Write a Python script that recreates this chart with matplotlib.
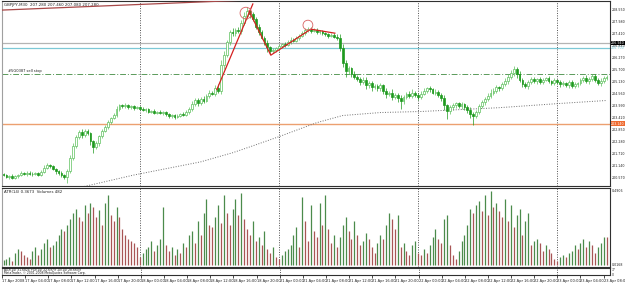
import numpy as np
import matplotlib
matplotlib.use("Agg")
import matplotlib.pyplot as plt
from matplotlib import font_manager as fm

# GBPJPY M30, 17-23 Apr 2008
closes = [
    200.70, 200.62, 200.66, 200.58, 200.64, 200.72, 200.80, 200.76, 200.82, 200.78, 200.74, 200.80, 200.72,
    200.86, 201.05, 201.20, 201.12, 201.00, 200.88,
    200.80, 200.70, 200.62, 200.90,
    201.50, 202.10, 202.50,
    202.75, 202.60, 202.80, 202.70,
    202.30, 202.05, 202.20,
    202.55, 202.80, 203.00, 203.20, 203.40, 203.55,
    203.85, 204.00, 203.95, 204.02, 203.90, 203.96, 203.88, 203.92,
    203.85, 203.78, 203.82, 203.70, 203.74, 203.66, 203.70, 203.62, 203.68, 203.58, 203.50,
    203.55, 203.46, 203.52, 203.60, 203.55, 203.68, 203.85,
    204.05, 204.25, 204.10, 204.30, 204.20, 204.45,
    204.60, 204.55, 204.80, 204.70,
    205.90, 206.40, 207.00,
    207.45, 207.40, 207.55, 207.50,
    207.90, 208.20, 208.45, 208.30, 208.10,
    207.70, 207.45, 207.20, 206.95, 206.75, 206.55,
    206.62, 206.70, 206.80,
    206.90, 206.85, 207.00, 207.10, 207.05, 207.20, 207.30, 207.40,
    207.55, 207.60, 207.52, 207.58,
    207.45, 207.50, 207.40, 207.38, 207.30, 207.34, 207.25, 207.20,
    206.70, 206.00, 205.60,
    205.75, 205.50, 205.35, 205.25,
    205.10, 205.20, 204.95, 205.05, 204.85, 204.90, 204.80, 204.95,
    204.70, 204.55, 204.60, 204.40, 204.50, 204.35, 204.20,
    204.40, 204.55, 204.45, 204.60, 204.50, 204.40,
    204.55, 204.70, 204.80, 204.75, 204.60, 204.65, 204.50, 204.35,
    204.00, 203.75, 203.90,
    204.00, 204.10, 203.95, 204.05, 203.90, 203.80,
    203.60, 203.50, 203.70,
    203.95, 204.15, 204.30, 204.45, 204.60, 204.70, 204.85,
    204.80, 205.00, 205.15, 205.35, 205.55, 205.70,
    205.50, 205.20, 205.00, 204.90, 205.10, 205.25,
    205.15, 205.25, 205.10, 205.20, 205.30, 205.15, 205.05, 205.20, 205.10, 205.00,
    205.05, 204.95, 205.10, 204.90, 205.00, 205.05,
    205.20, 205.30, 205.15, 205.25, 205.40, 205.20,
    205.05, 205.15, 205.30, 205.35,
]
first_open = 200.74

wick_up = [
    0.05, 0.08, 0.04, 0.10, 0.06, 0.05, 0.12, 0.04, 0.06, 0.08,
    0.05, 0.07, 0.04, 0.10, 0.12, 0.08, 0.05, 0.06, 0.04, 0.05,
    0.08, 0.06, 0.10, 0.15, 0.12, 0.10, 0.08, 0.14, 0.06, 0.10,
    0.05, 0.08, 0.12, 0.06, 0.10, 0.08, 0.12, 0.06, 0.10, 0.12,
    0.08, 0.05, 0.10, 0.06, 0.08, 0.05, 0.06, 0.04, 0.08, 0.05,
    0.06, 0.04, 0.07, 0.05, 0.06, 0.04, 0.05, 0.06, 0.04, 0.05,
    0.08, 0.06, 0.10, 0.12, 0.08, 0.15, 0.10, 0.12, 0.08, 0.15,
    0.10, 0.12, 0.08, 0.15, 0.20, 0.25, 0.15, 0.10, 0.12, 0.20,
    0.10, 0.15, 0.12, 0.20, 0.18, 0.12, 0.10, 0.08, 0.12, 0.10,
    0.08, 0.12, 0.06, 0.10, 0.08, 0.12, 0.06, 0.10, 0.08, 0.12,
    0.06, 0.10, 0.08, 0.12, 0.10, 0.08, 0.10, 0.06, 0.08, 0.05,
    0.06, 0.08, 0.05, 0.06, 0.08, 0.10, 0.15, 0.20, 0.12, 0.10,
    0.08, 0.12, 0.10, 0.08, 0.12, 0.15, 0.10, 0.08, 0.10, 0.12,
    0.10, 0.08, 0.12, 0.10, 0.15, 0.08, 0.10, 0.12, 0.08, 0.10,
    0.12, 0.15, 0.10, 0.08, 0.12, 0.10, 0.08, 0.12, 0.06, 0.10,
    0.08, 0.10, 0.12, 0.08, 0.10, 0.12, 0.08, 0.06, 0.10, 0.08,
    0.10, 0.12, 0.08, 0.10, 0.12, 0.10, 0.08, 0.12, 0.15, 0.10,
    0.12, 0.08, 0.10, 0.12, 0.15, 0.10, 0.18, 0.12, 0.10, 0.08,
    0.10, 0.12, 0.08, 0.10, 0.06, 0.08, 0.10, 0.06, 0.08, 0.05,
    0.08, 0.06, 0.10, 0.08, 0.06, 0.10, 0.08, 0.12, 0.06, 0.10,
    0.08, 0.12, 0.10, 0.06, 0.08, 0.10, 0.12, 0.08, 0.10,
]
wick_dn = [
    0.06, 0.05, 0.08, 0.06, 0.04, 0.07, 0.05, 0.06, 0.08, 0.05,
    0.06, 0.05, 0.08, 0.06, 0.05, 0.08, 0.10, 0.06, 0.12, 0.08,
    0.10, 0.08, 0.30, 0.10, 0.08, 0.12, 0.10, 0.15, 0.08, 0.12,
    0.15, 0.30, 0.12, 0.10, 0.08, 0.06, 0.10, 0.08, 0.06, 0.08,
    0.10, 0.06, 0.08, 0.05, 0.06, 0.08, 0.05, 0.06, 0.05, 0.08,
    0.06, 0.05, 0.08, 0.06, 0.05, 0.08, 0.06, 0.12, 0.08, 0.10,
    0.06, 0.08, 0.05, 0.06, 0.08, 0.10, 0.06, 0.15, 0.08, 0.10,
    0.06, 0.10, 0.08, 0.12, 0.10, 0.15, 0.20, 0.12, 0.15, 0.10,
    0.12, 0.10, 0.15, 0.12, 0.10, 0.15, 0.12, 0.10, 0.12, 0.08,
    0.10, 0.25, 0.12, 0.10, 0.08, 0.12, 0.10, 0.08, 0.06, 0.10,
    0.08, 0.06, 0.10, 0.08, 0.06, 0.08, 0.10, 0.06, 0.08, 0.10,
    0.06, 0.08, 0.10, 0.06, 0.08, 0.10, 0.12, 0.20, 0.25, 0.12,
    0.15, 0.10, 0.12, 0.15, 0.10, 0.18, 0.12, 0.15, 0.10, 0.12,
    0.10, 0.15, 0.20, 0.12, 0.15, 0.10, 0.18, 0.35, 0.12, 0.10,
    0.08, 0.12, 0.10, 0.15, 0.10, 0.08, 0.12, 0.10, 0.08, 0.12,
    0.10, 0.15, 0.20, 0.40, 0.15, 0.10, 0.12, 0.08, 0.10, 0.12,
    0.15, 0.20, 0.45, 0.12, 0.10, 0.08, 0.12, 0.10, 0.08, 0.10,
    0.12, 0.10, 0.08, 0.10, 0.12, 0.10, 0.15, 0.20, 0.12, 0.15,
    0.10, 0.12, 0.08, 0.10, 0.12, 0.08, 0.10, 0.06, 0.08, 0.10,
    0.08, 0.10, 0.12, 0.08, 0.10, 0.15, 0.08, 0.10, 0.12, 0.08,
    0.10, 0.08, 0.12, 0.10, 0.08, 0.10, 0.12, 0.08, 0.10,
]

volumes = [
    5, 6, 8, 4, 12, 16, 14,
    10, 8, 6, 14, 18, 10,
    16, 22, 26, 18, 20, 24,
    30, 36, 34, 40, 46, 52,
    56, 48, 44, 60, 52, 62, 58, 48,
    55, 40, 62, 70, 50, 44, 58, 48,
    36, 30, 26, 24, 22, 18,
    8, 12, 16, 18, 24, 14, 20, 26, 58,
    20, 14, 18, 10, 16, 12, 22, 18, 30,
    34, 22, 44, 30, 52, 66, 40, 38,
    48, 60, 42, 70, 52, 40, 56, 66,
    50, 72, 46, 36, 30, 44, 24, 28,
    20, 34, 16, 12, 18, 8, 6,
    10, 14, 16, 20, 30, 38, 18, 68,
    44, 24, 60, 34, 28, 62, 40,
    70, 36, 22, 30, 18, 28, 40, 48,
    34, 26, 44, 30, 20, 24, 32, 26,
    18, 12, 22, 30, 26, 40, 52, 46,
    36, 50, 18, 22, 14, 10, 20, 24, 12,
    10, 16, 12, 20, 28, 36, 26, 22,
    46, 50, 20, 10, 6, 14, 24, 30,
    40, 56, 52, 60, 64, 54, 70, 50, 74,
    58, 62, 54, 48, 66, 44, 60, 38,
    50, 56, 30, 44, 52, 20, 24, 26,
    22, 14, 20, 16, 12, 6, 4, 8,
    10, 8, 12, 14, 20, 16, 22, 26,
    18, 24, 20, 12, 18, 22, 28, 28,
]

# slow moving average, read at a few bars
ma_bars = [27, 45, 68, 79, 85, 95, 108, 117, 130, 144, 171, 192, 208]
ma_vals = [200.14, 200.71, 201.33, 201.76, 202.04, 202.52, 203.18, 203.52,
           203.66, 203.71, 203.89, 204.09, 204.23]

# drawn objects
trend_bars = [-0.7, 85.0]
trend_vals = [208.50, 208.98]
zig_a_bars = [73.6, 86.0]
zig_a_vals = [204.75, 208.79]
zig_b_bars = [84.7, 92.2, 106.0, 114.3]
zig_b_vals = [208.46, 206.37, 207.60, 207.41]
circle_bars = [83.6, 105.0]
circle_vals = [208.36, 207.79]
circle_sizes = [70, 50]

level_gray = 206.94
level_cyan = 206.70
level_stop = 205.46
level_orange = 203.14

price_ticks = [208.55, 207.98, 207.41, 206.84, 206.27, 205.70, 205.13, 204.56,
               203.99, 203.42, 202.85, 202.28, 201.71, 201.14, 200.57]

day_starts = [47, 95, 143, 191]
time_labels = [
    "17 Apr 2008", "17 Apr 04:00", "17 Apr 08:00", "17 Apr 12:00", "17 Apr 16:00", "17 Apr 20:00",
    "18 Apr 00:00", "18 Apr 04:00", "18 Apr 08:00", "18 Apr 12:00", "18 Apr 16:00", "18 Apr 20:00",
    "21 Apr 00:00", "21 Apr 04:00", "21 Apr 08:00", "21 Apr 12:00", "21 Apr 16:00", "21 Apr 20:00",
    "22 Apr 00:00", "22 Apr 04:00", "22 Apr 08:00", "22 Apr 12:00", "22 Apr 16:00", "22 Apr 20:00",
    "23 Apr 00:00", "23 Apr 04:00", "23 Apr 08:00",
]

# narrow font for the tiny terminal texts, if there is one
names = {f.name for f in fm.fontManager.ttflist}
small = "Liberation Sans Narrow" if "Liberation Sans Narrow" in names else "DejaVu Sans"
plt.rcParams["font.family"] = [small, "DejaVu Sans"]

# ---- figure / panels (pixel layout of the terminal window)
W, H = 625, 284
fig = plt.figure(figsize=(W / 100, H / 100), dpi=100, facecolor="white")


def panel(top, bottom):
    return fig.add_axes([2 / W, (H - bottom) / H, 608 / W, (bottom - top) / H])


ax = panel(1, 186)
axv = panel(188, 267)
axa = panel(268, 275)

xlim = (-0.52, 209.2)
for a in (ax, axv, axa):
    a.set_xlim(*xlim)
    a.set_facecolor("white")
    for s in a.spines.values():
        s.set_linewidth(0.8)
        s.set_color("#303030")
    a.spines["left"].set_color("#a0a0a0")
    a.yaxis.tick_right()
    a.tick_params(axis="y", length=0, labelsize=2.3, pad=1, colors="#202020")
    a.set_xticks([])
    for d in day_starts:
        a.axvline(d, color="#505050", lw=0.7, ls=(0, (1, 1.5)), zorder=1)

# ---- candles
x = np.arange(len(closes))
c = np.array(closes)
o = np.r_[first_open, c[:-1]]
hi = np.maximum(o, c) + np.array(wick_up)
lo = np.minimum(o, c) - np.array(wick_dn)
up = c >= o
body = np.where(np.abs(c - o) < 0.02, 0.02, c - o)

ax.vlines(x[up], lo[up], hi[up], color="#5cc05c", lw=0.5, zorder=2)
ax.vlines(x[~up], lo[~up], hi[~up], color="#1e9a1e", lw=0.5, zorder=2)
ax.bar(x[up], body[up], bottom=o[up], width=0.62, facecolor="white",
       edgecolor="#5cc05c", lw=0.5, zorder=3)
ax.bar(x[~up], body[~up], bottom=o[~up], width=0.62, facecolor="#1e9a1e",
       edgecolor="#1e9a1e", lw=0.5, zorder=3)

ax.plot(ma_bars, ma_vals, color="#707070", lw=0.7, ls=(0, (1, 1.6)), zorder=2)

ax.axhline(level_gray, color="#b4b4b4", lw=0.9, zorder=1)
ax.axhline(level_cyan, color="#7cc8d6", lw=0.9, zorder=1)
ax.axhline(level_stop, color="#5a9a5a", lw=0.7, ls=(0, (6, 2, 1, 2)), zorder=1)
ax.axhline(level_orange, color="#eca070", lw=1.0, zorder=1)

ax.plot(trend_bars, trend_vals, color="#a84848", lw=0.9, zorder=4)
ax.plot(zig_a_bars, zig_a_vals, color="#d42020", lw=0.9, zorder=4)
ax.plot(zig_b_bars, zig_b_vals, color="#d42020", lw=0.9, zorder=4)
ax.scatter(circle_bars, circle_vals, s=circle_sizes, facecolors="none",
           edgecolors="#d86060", linewidths=0.6, zorder=4)

ylo, yhi = 200.19, 208.93
ax.set_ylim(ylo, yhi)
ax.set_yticks(price_ticks)
ax.set_yticklabels([f"{p:.3f}" for p in price_ticks])

# price tags on the right
tag = dict(transform=ax.transAxes, fontsize=2.3, va="center", ha="left")
ax.text(1.002, (level_gray - ylo) / (yhi - ylo), f"{level_gray:.3f}", color="white",
        bbox=dict(boxstyle="square,pad=0.1", fc="black", ec="none"), **tag)
ax.text(1.002, (level_cyan - ylo) / (yhi - ylo), f"{level_cyan:.3f}", color="#7cc8d6", **tag)
ax.text(1.002, (level_orange - ylo) / (yhi - ylo), f"{level_orange:.3f}", color="white",
        bbox=dict(boxstyle="square,pad=0.1", fc="#ee6a30", ec="none"), **tag)

ax.text(0.003, 0.988, "GBPJPY,M30  207.280 207.460 207.080 207.280", transform=ax.transAxes,
        fontsize=2.8, color="#202020", va="top", ha="left")
ax.text(1.5, level_stop + 0.06, "#5G0387 sell stop", fontsize=2.6, color="#202020",
        va="bottom", ha="left")

# ---- volumes
vol = np.array(volumes)
rising = np.r_[True, vol[1:] > vol[:-1]]
axv.vlines(x[rising], 0, vol[rising], color="#4b8b4b", lw=0.9)
axv.vlines(x[~rising], 0, vol[~rising], color="#a85555", lw=0.9)
axv.set_ylim(-2, 77)
axv.set_yticks([74, 0])
axv.set_yticklabels(["0.4906", "0.0168"])
axv.text(0.003, 0.97, "ATR(14) 0.3673  Volumes 482", transform=axv.transAxes,
         fontsize=2.8, color="#202020", va="top", ha="left")

# ---- ADX strip and time axis
axa.set_ylim(0, 100)
axa.set_yticks([72, 10])
axa.set_yticklabels(["77", "0"])
axa.tick_params(axis="y", labelsize=2.2, pad=1)
axa.text(0.003, 1.0, "ADX(14) 31.6824 +DI(14) 22.6979 -DI(14) 28.6609", transform=axa.transAxes,
         fontsize=2.2, color="#202020", va="top", ha="left")
axa.text(0.003, 0.0, "MetaTrader, \u00a9 2001-2008 MetaQuotes Software Corp.", transform=axa.transAxes,
         fontsize=2.2, color="#202020", va="bottom", ha="left")

tick_pos = [-1 + 8 * k for k in range(len(time_labels))]
axa.set_xticks(tick_pos)
axa.set_xticklabels(time_labels, fontsize=2.6, ha="left", color="#202020")
axa.tick_params(axis="x", length=2, width=0.5, pad=1, direction="out")

fig.savefig("out.png", dpi=100, facecolor="white")
